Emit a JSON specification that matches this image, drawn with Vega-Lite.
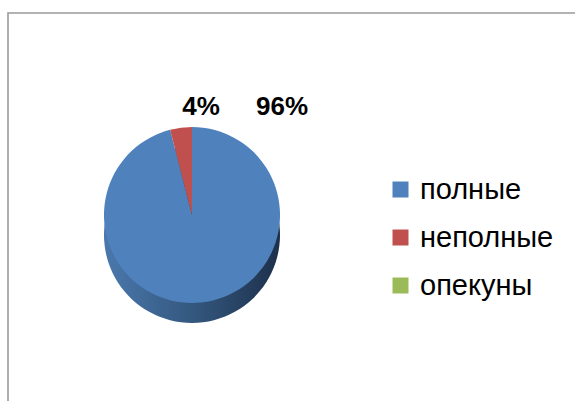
{
  "$schema": "https://vega.github.io/schema/vega-lite/v6.json",
  "width": 600,
  "height": 420,
  "autosize": {"type": "none"},
  "padding": {"left": 8, "top": 13, "right": 0, "bottom": 0},
  "background": "white",
  "config": {
    "view": {"stroke": "#9a9a9a", "strokeWidth": 1.6},
    "font": "Liberation Sans"
  },
  "data": {
    "values": [
      {"category": "полные", "share": 0.96, "idx": 1},
      {"category": "неполные", "share": 0.04, "idx": 2},
      {"category": "опекуны", "share": 0, "idx": 3}
    ]
  },
  "layer": [
    {
      "mark": {
        "type": "arc",
        "radius": 88,
        "yOffset": 20,
        "color": {
          "gradient": "linear",
          "x1": 0, "y1": 0, "x2": 1, "y2": 0,
          "stops": [
            {"offset": 0, "color": "#4b78ad"},
            {"offset": 0.5, "color": "#34587f"},
            {"offset": 1, "color": "#1d304b"}
          ]
        }
      },
      "encoding": {
        "theta": {"field": "share", "type": "quantitative", "stack": true},
        "order": {"field": "idx", "type": "quantitative"},
        "x": {"value": 184},
        "y": {"value": 202}
      }
    },
    {
      "mark": {"type": "arc", "radius": 88},
      "encoding": {
        "theta": {"field": "share", "type": "quantitative", "stack": true},
        "order": {"field": "idx", "type": "quantitative"},
        "x": {"value": 184},
        "y": {"value": 202},
        "color": {
          "field": "category",
          "type": "nominal",
          "sort": null,
          "scale": {
            "domain": ["полные", "неполные", "опекуны"],
            "range": ["#4f81bd", "#c0504d", "#9bbb59"]
          },
          "legend": {
            "title": null,
            "orient": "none",
            "legendX": 378,
            "legendY": 162,
            "padding": 0,
            "symbolType": "square",
            "symbolSize": 256,
            "symbolStrokeWidth": 0,
            "labelFontSize": 29,
            "labelFont": "Liberation Sans",
            "labelColor": "#000000",
            "labelOffset": 5,
            "rowPadding": 18,
            "labelLimit": 300
          }
        }
      }
    },
    {
      "transform": [{"filter": "datum.share > 0"}],
      "mark": {
        "type": "text",
        "fontSize": 26,
        "fontWeight": "bold",
        "font": "Liberation Sans",
        "color": "#000000",
        "baseline": "alphabetic",
        "align": "center"
      },
      "encoding": {
        "x": {
          "field": "category",
          "type": "nominal",
          "scale": {"type": "point", "padding": 0, "domain": ["неполные", "полные"], "range": [193, 274]},
          "axis": null
        },
        "y": {"value": 102},
        "text": {"field": "share", "type": "quantitative", "format": ".0%"}
      }
    }
  ]
}
